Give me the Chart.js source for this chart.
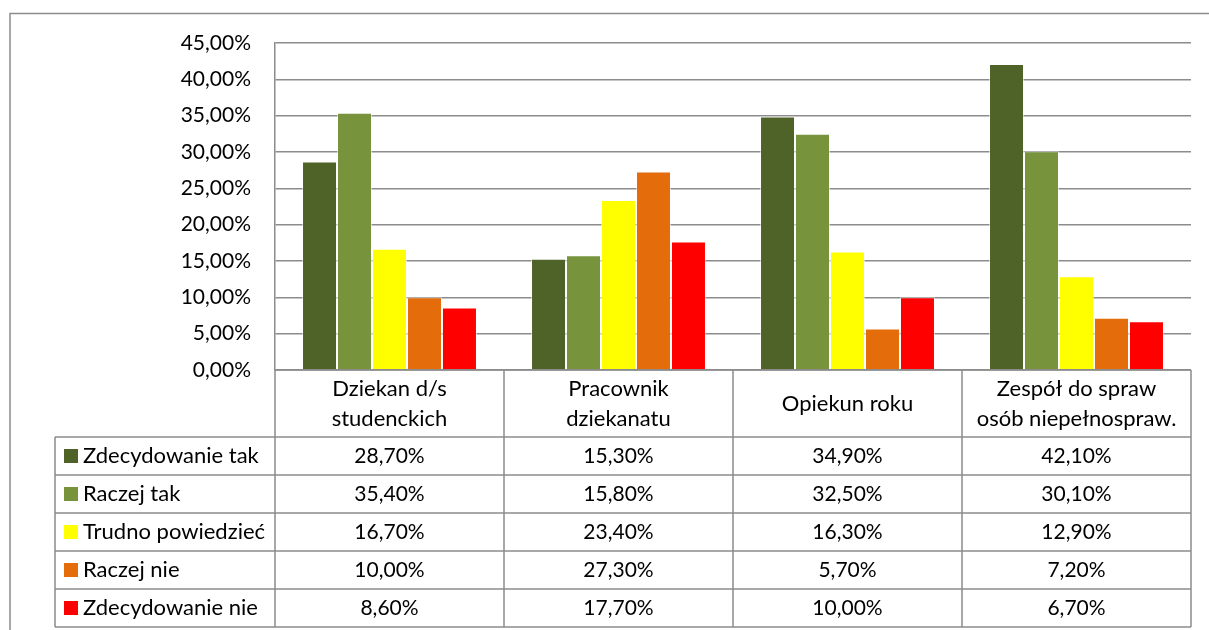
<!DOCTYPE html>
<html lang="pl">
<head>
<meta charset="utf-8">
<title>Ocena wsparcia</title>
<script src="https://cdn.jsdelivr.net/npm/chart.js@4/dist/chart.umd.min.js"></script>
<style>
  html, body { margin: 0; padding: 0; background: #fff; }
  #wrap { width: 1209px; height: 630px; position: relative; }
</style>
</head>
<body>
<div id="wrap"><canvas id="c" width="1209" height="630"></canvas></div>
<script>
// Categories (multi-line header labels of the data table)
const categories = [
  ['Dziekan d/s', 'studenckich'],
  ['Pracownik', 'dziekanatu'],
  ['Opiekun roku'],
  ['Zespół do spraw', 'osób niepełnospraw.']
];

// Answer series, values in percent
const seriesNames = ['Zdecydowanie tak', 'Raczej tak', 'Trudno powiedzieć', 'Raczej nie', 'Zdecydowanie nie'];
const zdecydowanieTak  = [28.7, 15.3, 34.9, 42.1];
const raczejTak        = [35.4, 15.8, 32.5, 30.1];
const trudnoPowiedziec = [16.7, 23.4, 16.3, 12.9];
const raczejNie        = [10.0, 27.3, 5.7, 7.2];
const zdecydowanieNie  = [8.6, 17.7, 10.0, 6.7];

const seriesColors = ['#4F6228', '#77933C', '#FFFF00', '#E46C0A', '#FF0000'];

// Value axis range
const yMin = 0;
const yMax = 45;
const yStep = 5;

const fmt = v => v.toFixed(2).replace('.', ',') + '%';
const NUM_FONT = '21px Lato';
const TEXT_FONT = '22px Lato';
const LINE = '#8c8c8c';

const seriesValues = [zdecydowanieTak, raczejTak, trudnoPowiedziec, raczejNie, zdecydowanieNie];

// Data table under the plot, aligned with the category scale
const dataTable = {
  id: 'dataTable',
  afterDraw(chart) {
    const ctx = chart.ctx;
    const x = chart.scales.x;
    const area = chart.chartArea;
    const n = categories.length;
    const colW = (area.right - area.left) / n;
    const headerH = 67;
    const rowH = 38;
    const tableLeft = 55;
    const top = area.bottom;
    const rowsTop = top + headerH;
    const bottom = rowsTop + rowH * seriesNames.length;

    ctx.save();
    ctx.strokeStyle = LINE;
    ctx.lineWidth = 1.5;

    // outer frame of the chart object
    ctx.beginPath();
    ctx.moveTo(10, 630);
    ctx.lineTo(10, 13.5);
    ctx.lineTo(1209, 13.5);
    ctx.stroke();

    // horizontal table lines
    ctx.beginPath();
    ctx.moveTo(area.left, top);
    ctx.lineTo(area.right, top);
    for (let r = 0; r <= seriesNames.length; r++) {
      const y = rowsTop + r * rowH;
      ctx.moveTo(tableLeft, y);
      ctx.lineTo(area.right, y);
    }
    // vertical table lines
    ctx.moveTo(tableLeft, rowsTop);
    ctx.lineTo(tableLeft, bottom);
    for (let i = 0; i <= n; i++) {
      const cx = area.left + i * colW;
      ctx.moveTo(cx, top);
      ctx.lineTo(cx, bottom);
    }
    ctx.stroke();

    ctx.fillStyle = '#000';
    ctx.textBaseline = 'middle';

    // header: category names
    ctx.font = TEXT_FONT;
    ctx.textAlign = 'center';
    const lineH = 30;
    categories.forEach((lines, i) => {
      const cx = x.getPixelForValue(i);
      const cy = top + headerH / 2;
      const y0 = cy - (lines.length - 1) * lineH / 2;
      lines.forEach((t, k) => ctx.fillText(t, cx, y0 + k * lineH));
    });

    // rows: legend key + values
    seriesNames.forEach((name, r) => {
      const cy = rowsTop + r * rowH + rowH / 2;
      ctx.fillStyle = seriesColors[r];
      ctx.fillRect(64, cy - 7, 14, 14);
      ctx.fillStyle = '#000';
      ctx.font = TEXT_FONT;
      ctx.textAlign = 'left';
      ctx.fillText(name, 83, cy);
      ctx.font = NUM_FONT;
      ctx.textAlign = 'center';
      seriesValues[r].forEach((v, i) => {
        ctx.fillText(fmt(v), x.getPixelForValue(i), cy);
      });
    });
    ctx.restore();
  }
};

new Chart(document.getElementById('c'), {
  type: 'bar',
  data: {
    labels: categories.map(l => l.join(' ')),
    datasets: seriesNames.map((name, i) => ({
      label: name,
      data: seriesValues[i],
      backgroundColor: seriesColors[i],
      borderColor: 'rgba(255,255,255,0.55)',
      borderWidth: 1,
      barPercentage: 1,
      categoryPercentage: 0.764
    }))
  },
  options: {
    responsive: false,
    animation: false,
    devicePixelRatio: 1,
    layout: { autoPadding: false, padding: { left: 0, top: 43, right: 18, bottom: 260 } },
    plugins: { legend: { display: false }, tooltip: { enabled: false } },
    scales: {
      x: { display: false },
      y: {
        min: yMin,
        max: yMax,
        afterFit(scale) { scale.width = 275; },
        ticks: {
          stepSize: yStep,
          padding: 24,
          color: '#000',
          font: { family: 'Lato', size: 21 },
          callback: v => fmt(v)
        },
        grid: { color: LINE, lineWidth: 1.5, drawTicks: false },
        border: { display: true, color: LINE, width: 1.5 }
      }
    }
  },
  plugins: [dataTable]
});
</script>
</body>
</html>
